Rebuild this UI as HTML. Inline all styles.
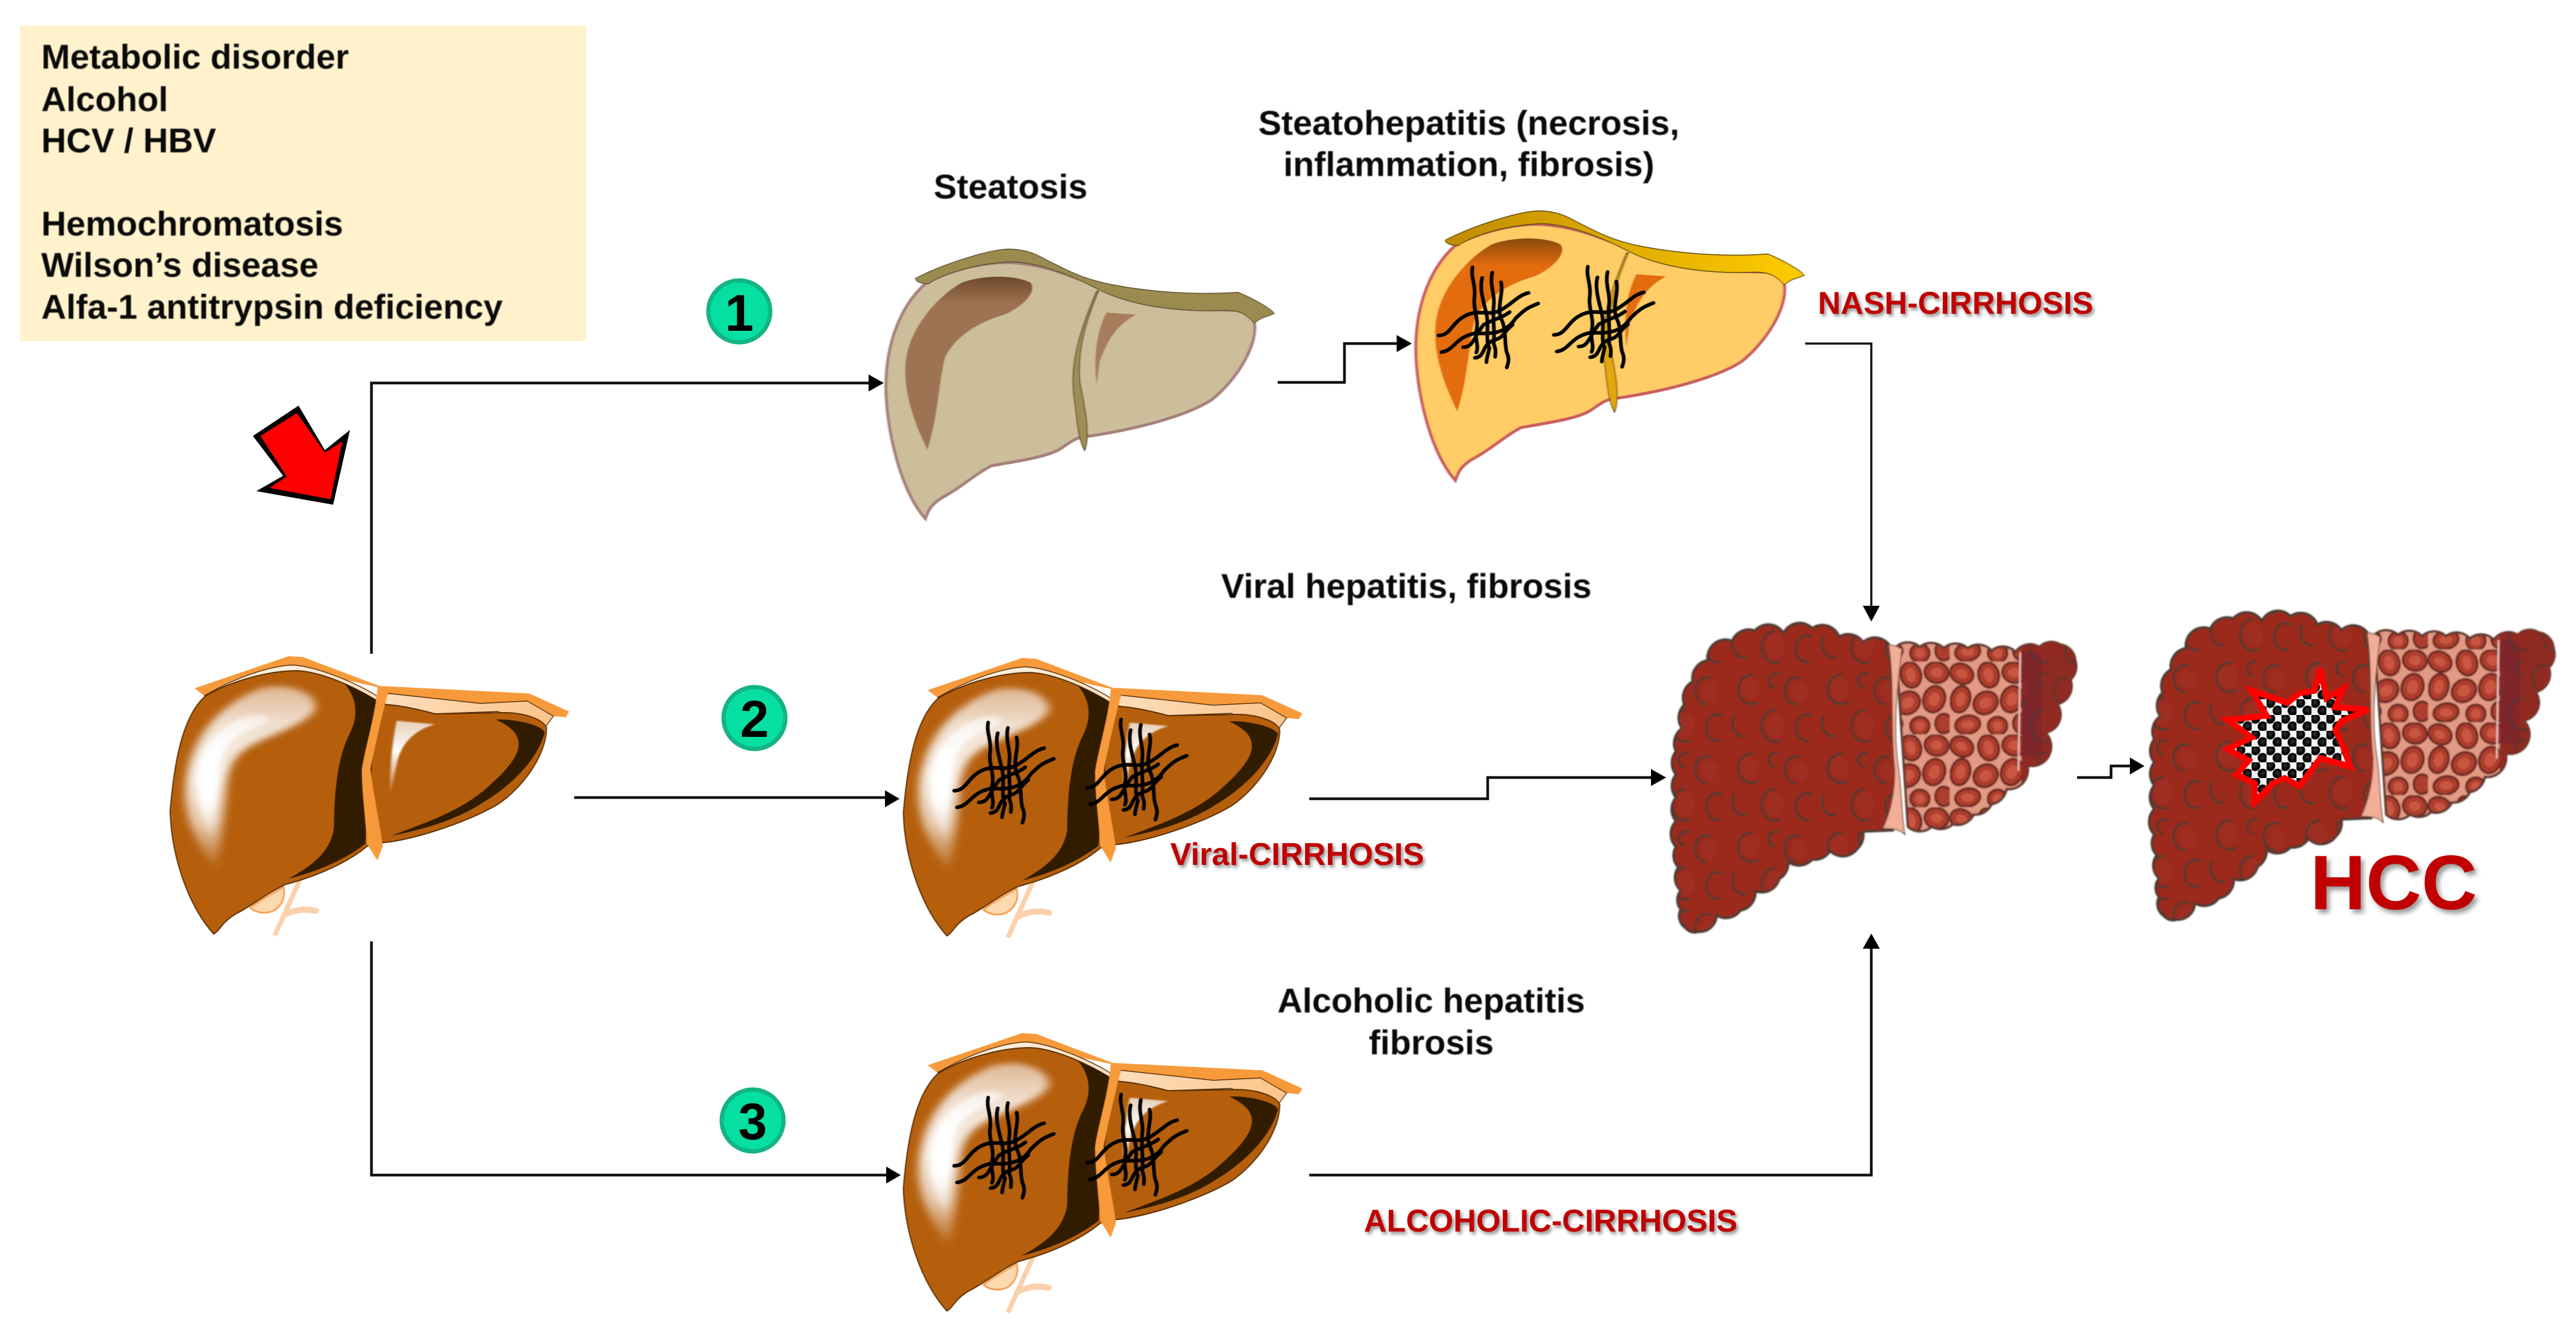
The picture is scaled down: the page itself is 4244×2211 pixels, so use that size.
<!DOCTYPE html>
<html><head><meta charset="utf-8"><title>Liver disease progression</title>
<style>
html,body{margin:0;padding:0;background:#fff}
svg{display:block}
.ns *{vector-effect:non-scaling-stroke}
text{font-family:"Liberation Sans",Arial,sans-serif;font-weight:bold}
.k{font-size:57px;fill:#0a0a0a;filter:blur(.7px)}
.r{font-size:52px;fill:#C00000;filter:drop-shadow(3px 4px 3px rgba(0,0,0,.45))}
.ln{fill:none;stroke:#111;stroke-width:4.5}
.fib{fill:none;stroke:#050505;stroke-width:6;stroke-linecap:round}
</style></head><body>
<svg xmlns="http://www.w3.org/2000/svg" width="4244" height="2211" viewBox="0 0 4244 2211">
<defs>
<filter id="b6" x="-40%" y="-40%" width="180%" height="180%"><feGaussianBlur stdDeviation="13"/></filter>
<filter id="b4" x="-40%" y="-40%" width="180%" height="180%"><feGaussianBlur stdDeviation="8"/></filter>
<filter id="b2" x="-20%" y="-20%" width="140%" height="140%"><feGaussianBlur stdDeviation="3"/></filter>
<filter id="b1"><feGaussianBlur stdDeviation="1"/></filter>
<linearGradient id="hl" x1="0" y1="0" x2="0" y2="1">
<stop offset="0" stop-color="#fff" stop-opacity=".55"/><stop offset=".2" stop-color="#fff" stop-opacity=".8"/><stop offset=".5" stop-color="#fff" stop-opacity=".9"/><stop offset=".75" stop-color="#fff" stop-opacity=".65"/><stop offset="1" stop-color="#fff" stop-opacity=".05"/></linearGradient>
<linearGradient id="hlc" x1="0" y1="0" x2="0" y2="1">
<stop offset="0" stop-color="#fff" stop-opacity=".5"/><stop offset=".3" stop-color="#fff"/><stop offset=".65" stop-color="#fff"/><stop offset="1" stop-color="#fff" stop-opacity="0"/></linearGradient>
<linearGradient id="hl2" x1="0" y1="0" x2="0" y2="1">
<stop offset="0" stop-color="#fff" stop-opacity=".7"/><stop offset=".4" stop-color="#fff"/><stop offset="1" stop-color="#fff" stop-opacity="0"/></linearGradient>
<linearGradient id="cream" x1="0" y1="0" x2="1" y2="0"><stop offset="0" stop-color="#fff8ee"/><stop offset="1" stop-color="#fbc48a"/></linearGradient>
<linearGradient id="band" x1="0" y1="0" x2="1" y2="0"><stop offset="0" stop-color="#C08C00"/><stop offset="1" stop-color="#FFCC00"/></linearGradient>
<linearGradient id="inS" x1="0" y1="0" x2="0" y2="1"><stop offset="0" stop-color="#6e4a2c"/><stop offset=".16" stop-color="#9E7352"/><stop offset="1" stop-color="#9E7352"/></linearGradient>
<linearGradient id="inN" x1="0" y1="0" x2="0" y2="1"><stop offset="0" stop-color="#8a4a08"/><stop offset=".16" stop-color="#E36C09"/><stop offset="1" stop-color="#E36C09"/></linearGradient>

<g id="liver" class="ns">
<g filter="url(#b1)">
<path d="M370,1295C400,1260 440,1230 465,1205C475,1260 450,1310 420,1315C400,1320 380,1310 370,1295Z" fill="#FDD9B0" stroke="#F4A258" stroke-width="3"/>
<path d="M512,1175L440,1415" stroke="#FBD0AC" stroke-width="8" fill="none"/>
<path d="M468,1325C500,1300 530,1300 558,1308" stroke="#FBD0AC" stroke-width="10" fill="none" stroke-linecap="round"/>
<path d="M210,350L480,212L520,215L740,340L1170,372L1285,450L1275,475L1240,470L1180,420L1030,440L770,395L735,345L480,260L240,385Z" fill="#F79A3A"/>
<path d="M238,382C320,310 420,255 490,250C560,255 680,330 735,385L765,372L1030,415L1165,405L1240,470L1215,520L1080,450L900,460L780,425L730,410L490,285Z" fill="url(#cream)" stroke="#5a3010" stroke-width="1.5"/>
<path d="M240,385C170,480 150,700 140,880C145,1100 200,1300 265,1408C285,1390 285,1360 330,1320C370,1290 420,1230 470,1195C560,1160 650,1100 705,1030L750,1015C850,1000 1000,920 1080,850C1150,780 1220,640 1220,520C1210,480 1150,455 1100,455L900,460C850,440 790,420 750,420L730,400C640,320 550,270 490,275C400,280 300,330 240,385Z" fill="#B55E0C" stroke="#5a2e06" stroke-width="2"/>
<path d="M640,330C680,360 730,390 735,410L700,1020C640,1090 560,1140 480,1170C540,1120 600,1060 610,950C610,800 620,660 650,560C680,480 680,400 640,330Z" fill="#331A00"/>
<path d="M1075,485C1130,480 1210,510 1215,540C1200,640 1130,760 1040,840C960,920 860,960 775,985C850,940 960,890 1040,790C1110,700 1140,640 1140,590C1140,540 1110,510 1075,485Z" fill="#331A00"/>
</g>
<path d="M270,1130C210,1000 180,900 185,780C190,600 260,430 400,350C490,320 570,380 555,445C530,500 450,540 380,590C330,630 305,680 300,780C295,900 285,1020 270,1130Z" fill="url(#hl)" filter="url(#b6)"/>
<path d="M262,1010C222,900 212,800 222,700C232,600 280,510 360,470C420,450 440,480 400,510C340,545 300,580 285,660C272,740 275,880 262,1010Z" fill="url(#hlc)" filter="url(#b4)"/>
<path d="M770,820C770,680 780,560 790,490L900,505C840,530 800,590 790,680Z" fill="url(#hl2)" filter="url(#b2)"/>
<path d="M735,345L765,372C745,480 725,620 715,700C725,820 745,960 750,1030L735,1092L705,1020C700,900 690,800 690,700C700,600 730,460 735,345Z" fill="#F79A3A" filter="url(#b1)"/>
</g>

<g id="mesh" class="ns" filter="url(#b1)">
<path class="fib" d="M372,400C365,450 385,480 378,550C375,600 395,650 385,700C380,740 395,770 385,800"/>
<path class="fib" d="M405,450C395,500 410,560 420,620C430,680 415,740 430,780C425,810 420,830 420,845"/>
<path class="fib" d="M440,425C430,480 450,530 445,580C440,640 450,700 445,760C455,790 450,810 450,820"/>
<path class="fib" d="M470,470C480,520 455,580 470,640C490,690 480,750 490,800C500,830 495,850 490,870"/>
<path class="fib" d="M255,720C300,720 300,650 360,620C400,600 430,630 470,600C510,570 530,530 565,520"/>
<path class="fib" d="M265,798C310,790 310,730 380,710C430,710 480,720 520,640C550,600 560,590 598,570"/>
<path class="fib" d="M340,775C375,775 375,730 410,670C450,640 470,640 500,610"/>
<path class="fib" d="M380,825C420,820 400,760 450,740C480,730 480,700 510,670"/>
</g>

<pattern id="cpat" patternUnits="userSpaceOnUse" width="150" height="130">
<g fill="none" stroke="#4a3a33" stroke-width="3.5">
<path d="M40,12a22,24 0 1 0 10,44"/>
<path d="M120,18a18,22 0 1 0 -6,42"/>
<path d="M78,70a22,26 0 1 0 8,50"/>
<path d="M10,78a18,22 0 0 0 20,34"/>
<path d="M140,80a18,22 0 1 0 -4,40"/>
<path d="M84,10a14,12 0 0 0 -6,24"/>
</g>
<g fill="#AA3527" opacity=".22"><ellipse cx="36" cy="34" rx="16" ry="18"/><ellipse cx="118" cy="40" rx="14" ry="16"/><ellipse cx="78" cy="95" rx="16" ry="20"/></g>
</pattern>
<pattern id="rpat" patternUnits="userSpaceOnUse" width="130" height="120">
<rect width="130" height="120" fill="#E39A84"/>
<g fill="#AE3E2E" stroke="#6E2A20" stroke-width="4">
<ellipse cx="20" cy="20" rx="20" ry="16" transform="rotate(25 20 20)"/>
<ellipse cx="65" cy="22" rx="17" ry="21" transform="rotate(-15 65 22)"/>
<ellipse cx="108" cy="18" rx="20" ry="17" transform="rotate(10 108 18)"/>
<ellipse cx="18" cy="62" rx="16" ry="22" transform="rotate(15 18 62)"/>
<ellipse cx="60" cy="68" rx="21" ry="18" transform="rotate(-30 60 68)"/>
<ellipse cx="104" cy="62" rx="18" ry="22" transform="rotate(20 104 62)"/>
<ellipse cx="30" cy="104" rx="21" ry="15" transform="rotate(-10 30 104)"/>
<ellipse cx="80" cy="106" rx="16" ry="15"/>
<ellipse cx="120" cy="102" rx="14" ry="16"/>
</g>
<g fill="#C9573F"><ellipse cx="20" cy="20" rx="10" ry="7" transform="rotate(25 20 20)"/><ellipse cx="65" cy="22" rx="8" ry="12" transform="rotate(-15 65 22)"/><ellipse cx="108" cy="18" rx="10" ry="8"/><ellipse cx="18" cy="62" rx="8" ry="12" transform="rotate(15 18 62)"/><ellipse cx="60" cy="68" rx="11" ry="9" transform="rotate(-30 60 68)"/><ellipse cx="104" cy="62" rx="9" ry="12" transform="rotate(20 104 62)"/><ellipse cx="30" cy="104" rx="11" ry="7"/><ellipse cx="80" cy="106" rx="8" ry="8"/></g>
</pattern>
<radialGradient id="ball" cx=".5" cy=".45" r=".55"><stop offset="0" stop-color="#333"/><stop offset=".7" stop-color="#000"/><stop offset="1" stop-color="#222"/></radialGradient>
<pattern id="tpat" patternUnits="userSpaceOnUse" width="25" height="26">
<rect width="25" height="26" fill="#f4f4f4"/>
<circle cx="6" cy="6" r="8.5" fill="url(#ball)"/><circle cx="18.5" cy="19" r="8.5" fill="url(#ball)"/>
</pattern>

<clipPath id="rclip"><path d="M430,96A30 30 0 0 1 470,96A30 30 0 0 1 510,98A30 30 0 0 1 550,98A30 30 0 0 1 590,102A30 30 0 0 1 630,104A30 30 0 0 1 670,96A28 28 0 0 1 705,92A28 28 0 0 1 730,118A30 30 0 0 1 722,150A30 30 0 0 1 700,190A30 30 0 0 1 680,237A32 32 0 0 1 650,291A32 32 0 0 1 615,330A30 30 0 0 1 590,355A30 30 0 0 1 560,372A30 30 0 0 1 525,388A30 30 0 0 1 490,392A30 30 0 0 1 450,392Z"/></clipPath>

<g id="cirr" filter="url(#b1)">
<path d="M430,96A30 30 0 0 1 470,96A30 30 0 0 1 510,98A30 30 0 0 1 550,98A30 30 0 0 1 590,102A30 30 0 0 1 630,104A30 30 0 0 1 670,96A28 28 0 0 1 705,92A28 28 0 0 1 730,118A30 30 0 0 1 722,150A30 30 0 0 1 700,190A30 30 0 0 1 680,237A32 32 0 0 1 650,291A32 32 0 0 1 615,330A30 30 0 0 1 590,355A30 30 0 0 1 560,372A30 30 0 0 1 525,388A30 30 0 0 1 490,392A30 30 0 0 1 450,392Z" fill="url(#rpat)" stroke="#5f3a33" stroke-width="4"/>
<g clip-path="url(#rclip)">
<rect x="640" y="70" width="110" height="260" fill="#8E2A22"/>
<rect x="640" y="105" width="34" height="170" fill="#6E2035" opacity=".5"/>
<rect x="640" y="70" width="110" height="260" fill="url(#cpat)" opacity=".7"/>
<path d="M638,105L635,300" stroke="#E8C0B8" stroke-width="3"/>
</g>
<path d="M156,86A30 30 0 0 1 194,69A30 30 0 0 1 242,73A30 30 0 0 1 290,65A30 30 0 0 1 335,79A30 30 0 0 1 375,88A30 30 0 0 1 420,94L430,300L425,398L375,400A30 30 0 0 1 365,429A30 30 0 0 1 320,432A30 30 0 0 1 290,446A30 30 0 0 1 250,450A30 30 0 0 1 235,478A30 30 0 0 1 195,498A30 30 0 0 1 170,530A30 30 0 0 1 130,538A28 28 0 0 1 100,565A20 20 0 0 1 78,559A24 24 0 0 1 70,528A24 24 0 0 1 70,497A28 28 0 0 1 66,459A28 28 0 0 1 62,425A30 30 0 0 1 62,383A30 30 0 0 1 62,344A30 30 0 0 1 62,306A30 30 0 0 1 62,268A30 30 0 0 1 72,230A30 30 0 0 1 76,191A30 30 0 0 1 90,153A30 30 0 0 1 115,118A30 30 0 0 1 156,86Z" fill="#9B2A1E" stroke="#4a3a33" stroke-width="4"/>
<path d="M156,86A30 30 0 0 1 194,69A30 30 0 0 1 242,73A30 30 0 0 1 290,65A30 30 0 0 1 335,79A30 30 0 0 1 375,88A30 30 0 0 1 420,94L430,300L425,398L375,400A30 30 0 0 1 365,429A30 30 0 0 1 320,432A30 30 0 0 1 290,446A30 30 0 0 1 250,450A30 30 0 0 1 235,478A30 30 0 0 1 195,498A30 30 0 0 1 170,530A30 30 0 0 1 130,538A28 28 0 0 1 100,565A20 20 0 0 1 78,559A24 24 0 0 1 70,528A24 24 0 0 1 70,497A28 28 0 0 1 66,459A28 28 0 0 1 62,425A30 30 0 0 1 62,383A30 30 0 0 1 62,344A30 30 0 0 1 62,306A30 30 0 0 1 62,268A30 30 0 0 1 72,230A30 30 0 0 1 76,191A30 30 0 0 1 90,153A30 30 0 0 1 115,118A30 30 0 0 1 156,86Z" fill="url(#cpat)"/>
<path d="M418,92C440,96 430,96 440,99C430,180 425,240 435,300C440,340 440,380 445,405C435,395 420,395 408,395C420,370 428,340 428,300C420,220 428,160 418,92Z" fill="#F2AE96" stroke="#6a4a40" stroke-width="1.5"/>
</g>
</defs>

<rect width="4244" height="2211" fill="#fff"/>

<!-- Risk factor box -->
<rect x="33" y="42" width="933" height="520" fill="#FFF2CC"/>
<text class="k" x="68" y="113">Metabolic disorder</text>
<text class="k" x="68" y="183">Alcohol</text>
<text class="k" x="68" y="251">HCV / HBV</text>
<text class="k" x="68" y="388">Hemochromatosis</text>
<text class="k" x="68" y="456">Wilson’s disease</text>
<text class="k" x="68" y="525">Alfa-1 antitrypsin deficiency</text>

<!-- Red arrow -->
<g transform="translate(380,640) scale(.339,.333)">
<polygon points="330,85 458,305 580,205 498,575 125,508 255,432 108,235" fill="#000"/>
<polygon points="322,122 458,318 543,262 485,548 190,492 272,435 145,235" fill="#F00"/>
</g>

<!-- Connectors -->
<path class="ln" d="M612,1077V631H1434"/><polygon points="1456,631 1431,617 1431,645" fill="#000"/>
<path class="ln" d="M946,1314H1460"/><polygon points="1482,1316 1458,1302 1458,1330" fill="#000"/>
<path class="ln" d="M612,1551V1936H1462"/><polygon points="1484,1936 1460,1922 1460,1950" fill="#000"/>
<path class="ln" d="M2105,630H2215V566H2303"/><polygon points="2326,566 2301,552 2301,580" fill="#000"/>
<path class="ln" d="M2974,566H3083V1000" style="stroke-width:3.5"/><polygon points="3083,1024 3069,998 3097,998" fill="#000"/>
<path class="ln" d="M2157,1316H2451V1281H2722"/><polygon points="2745,1281 2720,1267 2720,1295" fill="#000"/>
<path class="ln" d="M2157,1936H3083V1560"/><polygon points="3083,1538 3069,1563 3097,1563" fill="#000"/>
<path class="ln" d="M3422,1281H3478V1262H3512"/><polygon points="3533,1262 3509,1248 3509,1276" fill="#000"/>

<!-- Normal & fibrotic livers -->
<g transform="translate(200,1000) scale(.574,.3827)"><use href="#liver"/></g>
<g transform="translate(1408,1003) scale(.574,.3827)"><use href="#liver"/></g>
<g transform="translate(1408,1621) scale(.574,.3827)"><use href="#liver"/></g>
<g transform="translate(1450,1050) scale(.4785,.351)"><use href="#mesh"/></g>
<g transform="translate(1669,1045) scale(.4785,.351)"><use href="#mesh"/></g>
<g transform="translate(1450,1668) scale(.4785,.351)"><use href="#mesh"/></g>
<g transform="translate(1669,1663) scale(.4785,.351)"><use href="#mesh"/></g>

<!-- Steatosis -->
<g class="ns" transform="translate(1400,350) scale(1.0841,.3508)" filter="url(#b1)">
<path d="M115,335C80,430 55,600 55,820C55,1000 75,1300 115,1438C120,1390 125,1370 140,1340C170,1290 190,1230 215,1190C250,1170 300,1150 320,1110C335,1080 345,1050 365,1050C430,1020 510,960 550,880C590,780 620,620 615,520L610,460C500,460 430,430 370,340C330,290 290,240 240,235C190,235 140,290 115,335Z" fill="#CDBE9B" stroke="#A5807C" stroke-width="5"/>
<path d="M100,310C130,260 200,180 240,172C265,172 280,190 300,225C330,270 350,310 400,340C450,370 520,390 590,375C610,400 640,450 645,475C635,490 625,490 615,520C600,470 590,460 570,460C500,470 430,440 380,365C340,300 290,235 245,232C190,240 140,290 120,335C105,335 100,320 100,310Z" fill="#9C8B50" stroke="#5e5230" stroke-width="1.5"/>
<path d="M118,1115C100,1000 80,850 85,700C90,550 130,400 170,330C200,295 250,290 275,330C285,370 265,440 235,480C190,520 160,590 145,680C135,800 135,950 118,1115Z" fill="url(#inS)"/>
<path d="M375,810C370,680 375,560 390,470L435,480C400,540 390,620 380,700Z" fill="#A67D5C"/>
<path d="M375,370C350,550 335,700 340,850C345,950 345,1050 357,1118C365,1050 360,950 350,800C345,650 360,500 378,370Z" fill="#A08E55" stroke="#3e3418" stroke-width="1.5"/>
</g>

<!-- NASH -->
<g class="ns" transform="translate(2273,287) scale(1.0841,.3508)" filter="url(#b1)">
<path d="M115,335C80,430 55,600 55,820C55,1000 75,1300 115,1438C120,1390 125,1370 140,1340C170,1290 190,1230 215,1190C250,1170 300,1150 320,1110C335,1080 345,1050 365,1050C430,1020 510,960 550,880C590,780 620,620 615,520L610,460C500,460 430,430 370,340C330,290 290,240 240,235C190,235 140,290 115,335Z" fill="#FFCC66" stroke="#C95F5F" stroke-width="5"/>
<path d="M100,310C130,260 200,180 240,172C265,172 280,190 300,225C330,270 350,310 400,340C450,370 520,390 590,375C610,400 640,450 645,475C635,490 625,490 615,520C600,470 590,460 570,460C500,470 430,440 380,365C340,300 290,235 245,232C190,240 140,290 120,335C105,335 100,320 100,310Z" fill="url(#band)" stroke="#5e4a10" stroke-width="1.5"/>
<path d="M118,1115C100,1000 80,850 85,700C90,550 130,400 170,330C200,295 250,290 275,330C285,370 265,440 235,480C190,520 160,590 145,680C135,800 135,950 118,1115Z" fill="url(#inN)"/>
<path d="M375,810C370,680 375,560 390,470L435,480C400,540 390,620 380,700Z" fill="#E36C09"/>
<path d="M375,370C350,550 335,700 340,850C345,950 345,1050 357,1118C365,1050 360,950 350,800C345,650 360,500 378,370Z" fill="#E0A810" stroke="#4e3a08" stroke-width="1.5"/>
</g>
<g transform="translate(2248,300) scale(.4785,.351)"><use href="#mesh"/></g>
<g transform="translate(2438,299) scale(.4785,.351)"><use href="#mesh"/></g>

<!-- Cirrhotic livers -->
<g transform="translate(2700,970) scale(.985,1)">
<use href="#cirr"/>
<g transform="translate(800,-20)"><use href="#cirr"/></g>
<polygon points="1140,132 1150,180 1178,165 1165,195 1220,199 1175,218 1165,233 1175,253 1190,293 1140,279 1105,325 1080,312 1060,321 1030,352 1030,321 1000,306 1020,283 985,264 1025,245 985,216 1050,209 1025,168 1085,188 1105,172 1130,168" fill="url(#tpat)" stroke="#F00" stroke-width="10" stroke-linejoin="miter"/>
</g>

<!-- Number badges -->
<g fill="#06DFA2" stroke="#14B484" stroke-width="7">
<circle cx="1218" cy="513" r="51"/><circle cx="1243" cy="1183" r="51"/><circle cx="1240" cy="1846" r="51"/>
</g>
<g style="font-size:85px" text-anchor="middle" fill="#000">
<text x="1218" y="545">1</text><text x="1243" y="1214">2</text><text x="1240" y="1877">3</text>
</g>

<!-- Labels -->
<text class="k" x="1665" y="327" text-anchor="middle">Steatosis</text>
<text class="k" x="2420" y="222" text-anchor="middle">Steatohepatitis (necrosis,</text>
<text class="k" x="2420" y="290" text-anchor="middle">inflammation, fibrosis)</text>
<text class="k" x="2317" y="985" text-anchor="middle">Viral hepatitis, fibrosis</text>
<text class="k" x="2358" y="1668" text-anchor="middle">Alcoholic hepatitis</text>
<text class="k" x="2358" y="1737" text-anchor="middle">fibrosis</text>
<text class="r" x="2995" y="517">NASH-CIRRHOSIS</text>
<text class="r" x="1928" y="1425">Viral-CIRRHOSIS</text>
<text class="r" x="2247" y="2029">ALCOHOLIC-CIRRHOSIS</text>
<text x="3806" y="1498" style="font-size:127px;fill:#C00000;filter:drop-shadow(5px 6px 4px rgba(0,0,0,.4))">HCC</text>
</svg>
</body></html>
